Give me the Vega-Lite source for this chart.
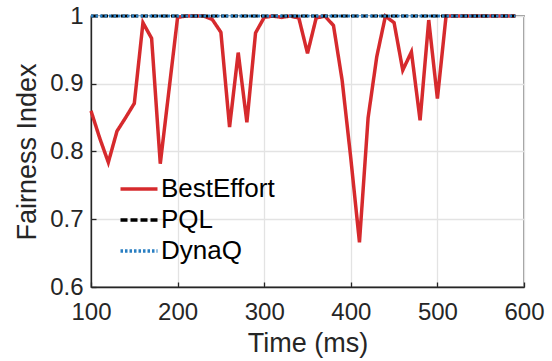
{
  "$schema": "https://vega.github.io/schema/vega-lite/v6.json",
  "autosize": {"type": "none"},
  "padding": {"left": 91, "top": 16, "right": 28, "bottom": 74},
  "width": 433,
  "height": 271,
  "background": "white",
  "config": {
    "font": "Liberation Sans",
    "view": {"stroke": "#262626", "strokeWidth": 1.3},
    "axis": {
      "labelFont": "Liberation Sans",
      "titleFont": "Liberation Sans",
      "labelColor": "#262626",
      "titleColor": "#262626",
      "domainColor": "#262626",
      "tickColor": "#262626",
      "gridColor": "#e3e3e3",
      "gridWidth": 1.3,
      "titleFontWeight": "normal"
    }
  },
  "data": {
    "values": [
      {"t": 100, "v": 0.86, "s": "BestEffort"},
      {"t": 110, "v": 0.82, "s": "BestEffort"},
      {"t": 120, "v": 0.784, "s": "BestEffort"},
      {"t": 130, "v": 0.83, "s": "BestEffort"},
      {"t": 140, "v": 0.85, "s": "BestEffort"},
      {"t": 150, "v": 0.871, "s": "BestEffort"},
      {"t": 160, "v": 0.99, "s": "BestEffort"},
      {"t": 170, "v": 0.967, "s": "BestEffort"},
      {"t": 180, "v": 0.782, "s": "BestEffort"},
      {"t": 190, "v": 0.89, "s": "BestEffort"},
      {"t": 200, "v": 0.998, "s": "BestEffort"},
      {"t": 210, "v": 1.0, "s": "BestEffort"},
      {"t": 220, "v": 1.0, "s": "BestEffort"},
      {"t": 230, "v": 1.0, "s": "BestEffort"},
      {"t": 240, "v": 0.995, "s": "BestEffort"},
      {"t": 250, "v": 0.976, "s": "BestEffort"},
      {"t": 260, "v": 0.836, "s": "BestEffort"},
      {"t": 270, "v": 0.946, "s": "BestEffort"},
      {"t": 280, "v": 0.843, "s": "BestEffort"},
      {"t": 290, "v": 0.975, "s": "BestEffort"},
      {"t": 300, "v": 0.998, "s": "BestEffort"},
      {"t": 310, "v": 1.0, "s": "BestEffort"},
      {"t": 320, "v": 0.998, "s": "BestEffort"},
      {"t": 330, "v": 1.0, "s": "BestEffort"},
      {"t": 340, "v": 0.997, "s": "BestEffort"},
      {"t": 350, "v": 0.945, "s": "BestEffort"},
      {"t": 360, "v": 0.997, "s": "BestEffort"},
      {"t": 370, "v": 1.0, "s": "BestEffort"},
      {"t": 380, "v": 0.986, "s": "BestEffort"},
      {"t": 390, "v": 0.905, "s": "BestEffort"},
      {"t": 400, "v": 0.79, "s": "BestEffort"},
      {"t": 410, "v": 0.666, "s": "BestEffort"},
      {"t": 420, "v": 0.85, "s": "BestEffort"},
      {"t": 430, "v": 0.94, "s": "BestEffort"},
      {"t": 440, "v": 1.0, "s": "BestEffort"},
      {"t": 450, "v": 0.99, "s": "BestEffort"},
      {"t": 460, "v": 0.92, "s": "BestEffort"},
      {"t": 470, "v": 0.947, "s": "BestEffort"},
      {"t": 480, "v": 0.846, "s": "BestEffort"},
      {"t": 490, "v": 0.994, "s": "BestEffort"},
      {"t": 500, "v": 0.878, "s": "BestEffort"},
      {"t": 510, "v": 1.0, "s": "BestEffort"},
      {"t": 520, "v": 1.0, "s": "BestEffort"},
      {"t": 530, "v": 1.0, "s": "BestEffort"},
      {"t": 540, "v": 1.0, "s": "BestEffort"},
      {"t": 550, "v": 1.0, "s": "BestEffort"},
      {"t": 560, "v": 1.0, "s": "BestEffort"},
      {"t": 570, "v": 1.0, "s": "BestEffort"},
      {"t": 580, "v": 1.0, "s": "BestEffort"},
      {"t": 590, "v": 1.0, "s": "BestEffort"},
      {"t": 100, "v": 1.0, "s": "PQL"},
      {"t": 590, "v": 1.0, "s": "PQL"},
      {"t": 100, "v": 1.0, "s": "DynaQ"},
      {"t": 590, "v": 1.0, "s": "DynaQ"}
    ]
  },
  "encoding": {
    "x": {
      "field": "t", "type": "quantitative",
      "scale": {"domain": [100, 600], "nice": false},
      "axis": {
        "title": "Time (ms)", "titleFontSize": 27, "titlePadding": 6,
        "labelFontSize": 24, "labelPadding": 18, "values": [100, 200, 300, 400, 500, 600],
        "tickSize": -5, "domainWidth": 1.3, "tickWidth": 1.3, "labelFlush": false
      }
    },
    "y": {
      "field": "v", "type": "quantitative",
      "scale": {"domain": [0.6, 1], "nice": false, "zero": false},
      "axis": {
        "title": "Fairness Index", "titleFontSize": 27, "titlePadding": 8,
        "labelFontSize": 24, "labelPadding": 13, "values": [0.6, 0.7, 0.8, 0.9, 1],
        "format": "~g", "tickSize": -5, "domainWidth": 1.3, "tickWidth": 1.3, "labelFlush": false
      }
    },
    "color": {
      "field": "s", "type": "nominal",
      "scale": {"domain": ["BestEffort", "PQL", "DynaQ"], "range": ["#d62a2d", "#000000", "#2a7fc2"]},
      "legend": {
        "title": null, "orient": "none", "legendX": 35, "legendY": 160,
        "padding": 0, "labelFontSize": 26, "labelColor": "#000000", "labelOffset": 9,
        "symbolType": "M-2,0L2,0", "symbolSize": 342, "symbolStrokeWidth": 3.5,
        "rowPadding": 5, "labelFont": "Liberation Sans"
      }
    },
    "strokeDash": {
      "field": "s", "type": "nominal",
      "scale": {"domain": ["BestEffort", "PQL", "DynaQ"], "range": [[1, 0], [7, 3], [2.5, 2]]},
      "legend": {
        "title": null, "orient": "none", "legendX": 35, "legendY": 160,
        "padding": 0, "labelFontSize": 26, "labelColor": "#000000", "labelOffset": 9,
        "symbolType": "M-2,0L2,0", "symbolSize": 342, "symbolStrokeWidth": 3.5,
        "rowPadding": 5, "labelFont": "Liberation Sans"
      }
    }
  },
  "layer": [
    {
      "transform": [{"filter": "datum.s === 'BestEffort'"}],
      "mark": {"type": "line", "strokeWidth": 3.5, "clip": false}
    },
    {
      "transform": [{"filter": "datum.s === 'PQL'"}],
      "mark": {"type": "line", "strokeWidth": 3, "clip": false}
    },
    {
      "transform": [{"filter": "datum.s === 'DynaQ'"}],
      "mark": {"type": "line", "strokeWidth": 3, "clip": false}
    }
  ]
}
